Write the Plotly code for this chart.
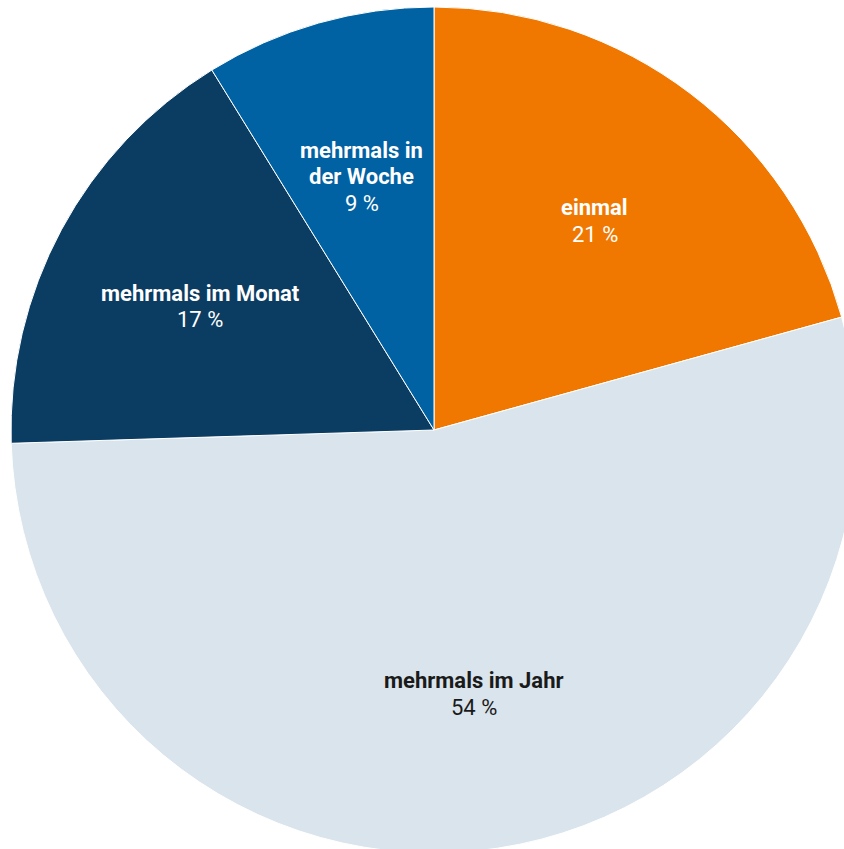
import numpy as np
import plotly.graph_objects as go

labels = ["einmal", "mehrmals im Jahr", "mehrmals im Monat", "mehrmals in<br>der Woche"]
values = [20.7, 53.8, 16.7, 8.8]
pct_text = ["21 %", "54 %", "17 %", "9 %"]
colors = ["#F07800", "#D9E4ED", "#0B3C62", "#0061A3"]
text_colors = ["#FFFFFF", "#1A1A1A", "#FFFFFF", "#FFFFFF"]

W, H = 868, 860
ML, MT = 11, 7
R = 423
FS = 22
LH = 26.5
DY = 2

fig = go.Figure(go.Pie(
    labels=labels,
    values=values,
    sort=False,
    direction="clockwise",
    rotation=0,
    marker=dict(colors=colors, line=dict(color="#FFFFFF", width=1)),
    textinfo="none",
    hoverinfo="label+percent",
    showlegend=False,
))

# label positions along each slice's mid-angle
vals = np.array(values)
cum = np.cumsum(vals) / vals.sum()
mid = (cum - vals / vals.sum() / 2) * 2 * np.pi
rl = 0.627 * R
annotations = []
for i, lab in enumerate(labels):
    cx = ML + R + rl * np.sin(mid[i])
    cy = MT + R - rl * np.cos(mid[i]) + DY
    lines = [f"<b>{s}</b>" for s in lab.split("<br>")] + [pct_text[i]]
    n = len(lines)
    for k, line in enumerate(lines):
        py = cy + (k - (n - 1) / 2) * LH
        annotations.append(dict(
            x=(cx - ML) / (2 * R), y=1 - (py - MT) / (2 * R),
            xref="paper", yref="paper", showarrow=False,
            text=line,
            font=dict(family="Roboto", size=FS, color=text_colors[i]),
            align="center", xanchor="center", yanchor="middle",
        ))

fig.update_layout(
    width=W, height=H,
    margin=dict(l=ML, r=W - ML - 2 * R, t=MT, b=H - MT - 2 * R, pad=0),
    paper_bgcolor="#FFFFFF",
    plot_bgcolor="#FFFFFF",
    annotations=annotations,
    font=dict(family="Roboto"),
)

fig.write_html(
    "out.html",
    config={"displayModeBar": False},
    post_script=(
        "document.documentElement.style.overflow='hidden';"
        "document.body.style.overflow='hidden';"
        "document.body.style.margin='0';"
    ),
)
